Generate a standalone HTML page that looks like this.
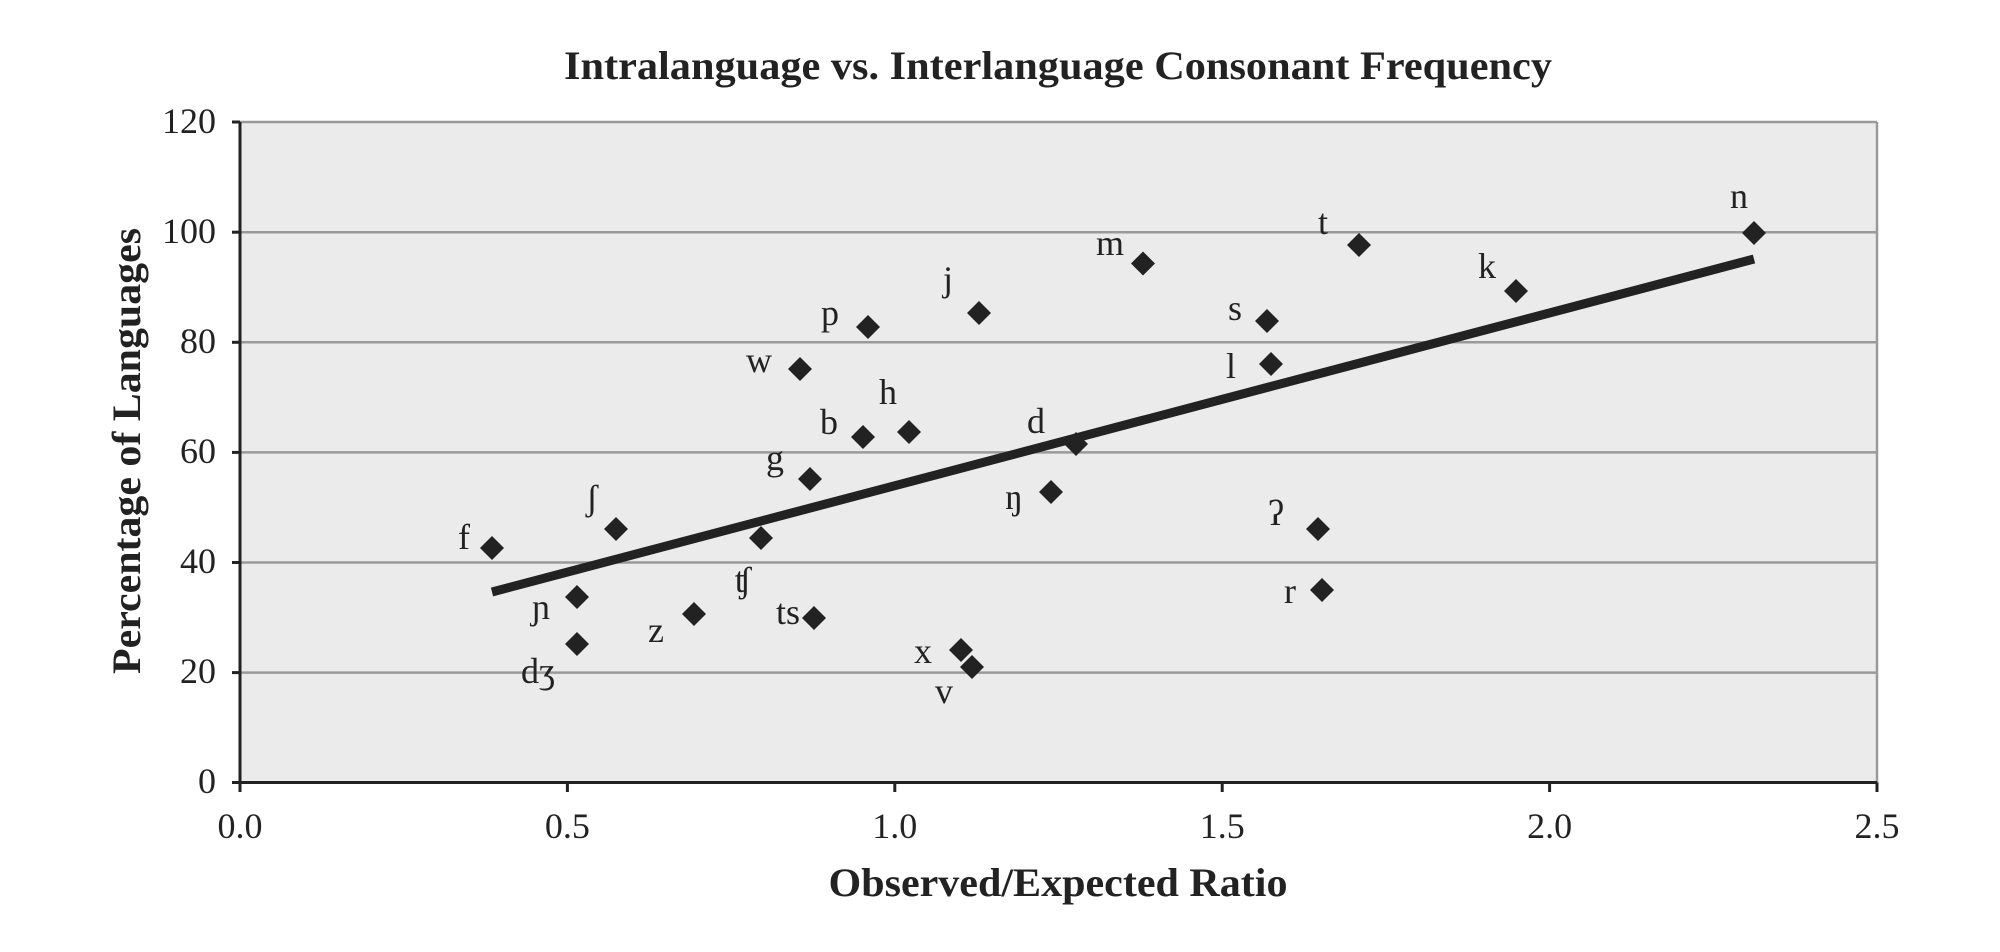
<!DOCTYPE html>
<html><head><meta charset="utf-8"><style>html,body{margin:0;padding:0;background:#fff}svg{display:block}</style></head>
<body>
<svg width="2000" height="952" viewBox="0 0 2000 952" xmlns="http://www.w3.org/2000/svg" font-family="'Liberation Serif', 'DejaVu Serif', serif" fill="#222">
<rect x="240" y="122" width="1637" height="660.5" fill="#ebebeb"/>
<g stroke="#9a9a9a" stroke-width="2.5">
<line x1="240" y1="232.2" x2="1877" y2="232.2"/>
<line x1="240" y1="342.3" x2="1877" y2="342.3"/>
<line x1="240" y1="452.4" x2="1877" y2="452.4"/>
<line x1="240" y1="562.5" x2="1877" y2="562.5"/>
<line x1="240" y1="672.6" x2="1877" y2="672.6"/>
<line x1="240" y1="122" x2="1877" y2="122"/>
<line x1="1877" y1="122" x2="1877" y2="782.5"/>
</g>
<g stroke="#222" stroke-width="3">
<line x1="240" y1="122" x2="240" y2="782.5"/>
<line x1="238.5" y1="782.5" x2="1877" y2="782.5"/>
<line x1="232" y1="122" x2="240" y2="122"/>
<line x1="232" y1="232.2" x2="240" y2="232.2"/>
<line x1="232" y1="342.3" x2="240" y2="342.3"/>
<line x1="232" y1="452.4" x2="240" y2="452.4"/>
<line x1="232" y1="562.5" x2="240" y2="562.5"/>
<line x1="232" y1="672.6" x2="240" y2="672.6"/>
<line x1="232" y1="782.5" x2="240" y2="782.5"/>
<line x1="240" y1="782.5" x2="240" y2="792"/>
<line x1="567.4" y1="782.5" x2="567.4" y2="792"/>
<line x1="894.8" y1="782.5" x2="894.8" y2="792"/>
<line x1="1222.2" y1="782.5" x2="1222.2" y2="792"/>
<line x1="1549.6" y1="782.5" x2="1549.6" y2="792"/>
<line x1="1877" y1="782.5" x2="1877" y2="792"/>
</g>
<g font-size="36" text-anchor="end">
<text x="216" y="133">120</text>
<text x="216" y="243">100</text>
<text x="216" y="353">80</text>
<text x="216" y="463">60</text>
<text x="216" y="573">40</text>
<text x="216" y="683">20</text>
<text x="216" y="793">0</text>
</g>
<g font-size="36" text-anchor="middle">
<text x="240" y="838">0.0</text>
<text x="567.4" y="838">0.5</text>
<text x="894.8" y="838">1.0</text>
<text x="1222.2" y="838">1.5</text>
<text x="1549.6" y="838">2.0</text>
<text x="1877" y="838">2.5</text>
</g>
<text x="1058" y="79" font-size="40" font-weight="bold" text-anchor="middle" textLength="988" lengthAdjust="spacingAndGlyphs">Intralanguage vs. Interlanguage Consonant Frequency</text>
<text x="1058" y="896" font-size="40" font-weight="bold" text-anchor="middle" textLength="459" lengthAdjust="spacingAndGlyphs">Observed/Expected Ratio</text>
<text transform="translate(140,451) rotate(-90)" font-size="40" font-weight="bold" text-anchor="middle" textLength="446" lengthAdjust="spacingAndGlyphs">Percentage of Languages</text>
<line x1="492" y1="592" x2="1754" y2="259" stroke="#222" stroke-width="9"/>
<g>
<path d="M492 536l12 12l-12 12l-12-12z"/>
<path d="M616 517l12 12l-12 12l-12-12z"/>
<path d="M761 526l12 12l-12 12l-12-12z"/>
<path d="M577 585l12 12l-12 12l-12-12z"/>
<path d="M577 632l12 12l-12 12l-12-12z"/>
<path d="M694 602l12 12l-12 12l-12-12z"/>
<path d="M814 606l12 12l-12 12l-12-12z"/>
<path d="M810 467l12 12l-12 12l-12-12z"/>
<path d="M863 425l12 12l-12 12l-12-12z"/>
<path d="M909 420l12 12l-12 12l-12-12z"/>
<path d="M800 357l12 12l-12 12l-12-12z"/>
<path d="M868 315l12 12l-12 12l-12-12z"/>
<path d="M979 301l12 12l-12 12l-12-12z"/>
<path d="M961 638l12 12l-12 12l-12-12z"/>
<path d="M972 655l12 12l-12 12l-12-12z"/>
<path d="M1143 251.5l12 12l-12 12l-12-12z"/>
<path d="M1359 233l12 12l-12 12l-12-12z"/>
<path d="M1754 221l12 12l-12 12l-12-12z"/>
<path d="M1516 279l12 12l-12 12l-12-12z"/>
<path d="M1267 309l12 12l-12 12l-12-12z"/>
<path d="M1271 352l12 12l-12 12l-12-12z"/>
<path d="M1076 432l12 12l-12 12l-12-12z"/>
<path d="M1051 480l12 12l-12 12l-12-12z"/>
<path d="M1318 517l12 12l-12 12l-12-12z"/>
<path d="M1322 578l12 12l-12 12l-12-12z"/>
</g>
<g font-size="36" text-anchor="middle">
<text x="464" y="549">f</text>
<text x="592" y="510">ʃ</text>
<text x="743" y="592">ʧ</text>
<text x="541" y="619">ɲ</text>
<text x="538" y="683">dʒ</text>
<text x="656" y="642">z</text>
<text x="788" y="624">ts</text>
<text x="775" y="470">g</text>
<text x="829" y="434">b</text>
<text x="888" y="404">h</text>
<text x="759" y="372">w</text>
<text x="830" y="325">p</text>
<text x="948" y="291">j</text>
<text x="923" y="663">x</text>
<text x="944" y="703">v</text>
<text x="1110" y="255">m</text>
<text x="1323" y="234">t</text>
<text x="1739" y="208">n</text>
<text x="1487" y="278">k</text>
<text x="1235" y="320">s</text>
<text x="1231" y="378">l</text>
<text x="1036" y="433">d</text>
<text x="1014" y="509">ŋ</text>
<text x="1276" y="525">ʔ</text>
<text x="1290" y="603">r</text>
</g>
</svg>
</body></html>
